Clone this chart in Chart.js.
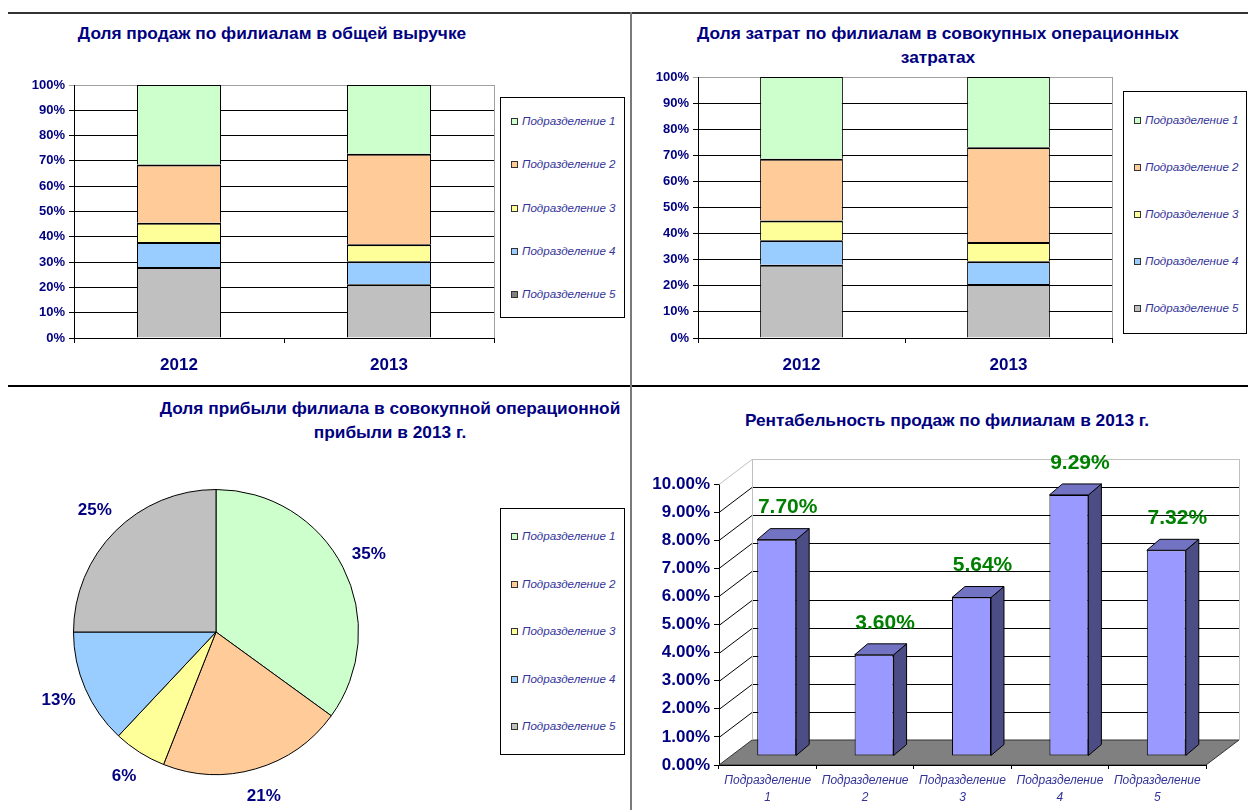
<!DOCTYPE html>
<html>
<head>
<meta charset="utf-8">
<script src="https://cdn.jsdelivr.net/npm/chart.js@4.4.1/dist/chart.umd.min.js"></script>
<style>
body{margin:0;width:1248px;height:810px;background:#fff;position:relative;overflow:hidden;font-family:"Liberation Sans",Arial,sans-serif}
canvas{position:absolute}
.ttl{position:absolute;width:640px;color:#000080;font-weight:bold;font-size:17.3px;text-align:center;line-height:24px;white-space:nowrap}
.lg{position:absolute;border:1px solid #000;background:#fff;box-sizing:border-box}
.lg div{position:absolute;font-style:italic;font-size:11.6px;color:#333399;white-space:nowrap;line-height:14px}
.lg span{display:inline-block;width:5px;height:5px;border:1px solid #333;margin-right:4px}
.ln{position:absolute;z-index:5}
</style>
</head>
<body>
<div class="ln" style="left:8px;top:12px;width:1240px;height:2px;background:#333"></div>
<div class="ln" style="left:8px;top:385px;width:1240px;height:2px;background:#000"></div>
<div class="ln" style="left:630px;top:12px;width:2px;height:798px;background:#7a7a7a"></div>

<div class="ttl" style="left:-48px;top:21px">Доля продаж по филиалам в общей выручке</div>
<div class="ttl" style="left:618px;top:21px">Доля затрат по филиалам в совокупных операционных<br>затратах</div>
<div class="ttl" style="left:70px;top:396px">Доля прибыли филиала в совокупной операционной<br>прибыли в 2013 г.</div>
<div class="ttl" style="left:627px;top:408px">Рентабельность продаж по филиалам в 2013 г.</div>

<canvas id="c1" width="500" height="325" style="left:0;top:60px"></canvas>
<canvas id="c2" width="490" height="325" style="left:630px;top:60px"></canvas>
<canvas id="c3" width="440" height="370" style="left:0;top:440px"></canvas>
<canvas id="c4" width="616" height="370" style="left:632px;top:440px"></canvas>

<div class="lg" id="lg1" style="left:500px;top:97px;width:125px;height:221px"></div>
<div class="lg" id="lg2" style="left:1123px;top:91px;width:124px;height:243px"></div>
<div class="lg" id="lg3" style="left:500px;top:508px;width:125px;height:247px"></div>

<script>
const names = ['Подразделение 1', 'Подразделение 2', 'Подразделение 3', 'Подразделение 4', 'Подразделение 5'];
const years = ['2012', '2013'];
const colors = ['#ccffcc', '#ffcc99', '#ffff99', '#99ccff', '#c0c0c0'];

// доля продаж, %
const sales2012 = [31.4, 23.0, 7.7, 9.8, 28.1];
const sales2013 = [27.2, 35.7, 6.8, 9.1, 21.2];
// доля затрат, %
const costs2012 = [31.3, 23.7, 7.5, 9.4, 28.1];
const costs2013 = [26.9, 36.3, 7.4, 8.7, 20.7];
// доля прибыли 2013, %
const profit2013 = [35, 21, 6, 13, 25];
// рентабельность продаж 2013, %
const margin2013 = [7.70, 3.60, 5.64, 9.29, 7.32];

Chart.defaults.font.family = '"Liberation Sans", Arial, sans-serif';
const navy = '#000080';

// legends (html)
function legend(id, first, step, marks) {
  const box = document.getElementById(id);
  names.forEach((n, i) => {
    const d = document.createElement('div');
    d.style.left = '10px';
    d.style.top = (first + step * i - 7) + 'px';
    d.innerHTML = '<span style="background:' + (marks[i] || colors[i]) + '"></span>' + n;
    box.appendChild(d);
  });
}
legend('lg1', 23, 43.3, ['', '', '', '', '#808080']);
legend('lg2', 28, 47, []);
legend('lg3', 27, 47.5, []);

// stacked 100% bars
function stackSets(a, b) {
  return names.map((n, i) => ({
    label: n,
    data: [a[i], b[i]],
    backgroundColor: colors[i],
    borderColor: '#000',
    borderWidth: {top: i === 0 ? 1 : 2, right: 1, bottom: 0, left: 1},
    borderSkipped: false
  })).reverse();
}

const plotEdge = {
  id: 'plotEdge',
  afterDraw(c) {
    const a = c.chartArea, ctx = c.ctx;
    ctx.save();
    ctx.strokeStyle = '#a0a0a0';
    ctx.lineWidth = 1;
    ctx.beginPath();
    ctx.moveTo(a.right + 0.5, a.top);
    ctx.lineTo(a.right + 0.5, a.bottom);
    ctx.stroke();
    ctx.restore();
  }
};

function stackOpts(padTop, yWidth, padRight) {
  return {
    responsive: false,
    animation: false,
    layout: {padding: {top: padTop, right: padRight, left: 0, bottom: 0}},
    plugins: {legend: {display: false}, tooltip: {enabled: false}},
    datasets: {bar: {categoryPercentage: 1, barPercentage: 0.4}},
    scales: {
      x: {
        stacked: true,
        grid: {offset: true, drawOnChartArea: false, tickLength: 5, color: '#000'},
        border: {color: '#000'},
        ticks: {padding: 12, color: navy, font: {size: 17, weight: 'bold'}},
        afterFit: s => { s.height = 47; }
      },
      y: {
        stacked: true, min: 0, max: 100,
        ticks: {stepSize: 10, callback: v => v + '%', padding: 4, color: navy, font: {size: 13, weight: 'bold'}},
        grid: {color: c => c.tick && c.tick.value === 100 ? '#a0a0a0' : '#000', tickLength: 5},
        border: {color: '#000'},
        afterFit: s => { s.width = yWidth; }
      }
    }
  };
}

new Chart(document.getElementById('c1'), {
  type: 'bar',
  data: {labels: years, datasets: stackSets(sales2012, sales2013)},
  options: stackOpts(25, 74, 6),
  plugins: [plotEdge]
});

new Chart(document.getElementById('c2'), {
  type: 'bar',
  data: {labels: years, datasets: stackSets(costs2012, costs2013)},
  options: stackOpts(17, 68, 8),
  plugins: [plotEdge]
});

// pie
const pieLabels = {
  id: 'pieLabels',
  afterDatasetsDraw(c) {
    const ctx = c.ctx;
    ctx.save();
    ctx.font = 'bold 17px "Liberation Sans", Arial, sans-serif';
    ctx.fillStyle = navy;
    ctx.textAlign = 'center';
    ctx.textBaseline = 'middle';
    c.getDatasetMeta(0).data.forEach((arc, i) => {
      const p = arc.getProps(['x', 'y', 'startAngle', 'endAngle', 'outerRadius'], true);
      const m = (p.startAngle + p.endAngle) / 2;
      const r = p.outerRadius + 29;
      ctx.fillText(profit2013[i] + '%', p.x + Math.cos(m) * r, p.y + Math.sin(m) * r);
    });
    ctx.restore();
  }
};

new Chart(document.getElementById('c3'), {
  type: 'pie',
  data: {labels: names, datasets: [{data: profit2013, backgroundColor: colors, borderColor: '#000', borderWidth: 1}]},
  options: {
    responsive: false,
    animation: false,
    layout: {padding: {left: 73, right: 81, top: 49, bottom: 35}},
    plugins: {legend: {display: false}, tooltip: {enabled: false}}
  },
  plugins: [pieLabels]
});

// 3d look for the margin chart
const DX = 33, DY = 25;     // depth of the box
const SX = 9, SY = 9;       // bars pushed back
const BX = 13, BY = 11;     // bar depth
const box3d = {
  id: 'box3d',
  beforeDatasetsDraw(c) {
    const a = c.chartArea, ys = c.scales.y, ctx = c.ctx;
    ctx.save();
    ctx.lineWidth = 1;
    // floor
    ctx.fillStyle = '#808080';
    ctx.strokeStyle = '#333';
    ctx.beginPath();
    ctx.moveTo(a.left, a.bottom);
    ctx.lineTo(a.right, a.bottom);
    ctx.lineTo(a.right + DX, a.bottom - DY);
    ctx.lineTo(a.left + DX, a.bottom - DY);
    ctx.closePath();
    ctx.fill();
    ctx.stroke();
    // walls
    ys.ticks.forEach(t => {
      if (t.value === 0) return;
      const py = Math.round(ys.getPixelForValue(t.value)) + 0.5;
      ctx.strokeStyle = t.value === 10 ? '#c0c0c0' : '#000';
      ctx.beginPath();
      ctx.moveTo(a.left, py);
      ctx.lineTo(a.left + DX, py - DY);
      ctx.lineTo(a.right + DX, py - DY);
      ctx.stroke();
    });
    ctx.strokeStyle = '#c0c0c0';
    ctx.beginPath();
    ctx.moveTo(a.left + DX + 0.5, a.top - DY);
    ctx.lineTo(a.left + DX + 0.5, a.bottom - DY);
    ctx.moveTo(a.right + DX + 0.5, a.top - DY);
    ctx.lineTo(a.right + DX + 0.5, a.bottom - DY);
    ctx.stroke();
    ctx.strokeStyle = '#000';
    ctx.beginPath();
    ctx.moveTo(a.left, a.bottom + 0.5);
    ctx.lineTo(a.right, a.bottom + 0.5);
    ctx.stroke();
    ctx.restore();
    ctx.save();
    ctx.translate(SX, -SY);
  },
  afterDatasetsDraw(c) {
    const ctx = c.ctx;
    ctx.restore();
    ctx.save();
    ctx.lineWidth = 1;
    ctx.strokeStyle = '#000';
    c.getDatasetMeta(0).data.forEach((el, i) => {
      const p = el.getProps(['x', 'y', 'base', 'width'], true);
      const l = p.x - p.width / 2 + SX, r = p.x + p.width / 2 + SX;
      const t = p.y - SY, b = p.base - SY;
      ctx.fillStyle = '#4d4d85';
      ctx.beginPath();
      ctx.moveTo(r, t); ctx.lineTo(r + BX, t - BY); ctx.lineTo(r + BX, b - BY); ctx.lineTo(r, b);
      ctx.closePath(); ctx.fill(); ctx.stroke();
      ctx.fillStyle = '#7373c4';
      ctx.beginPath();
      ctx.moveTo(l, t); ctx.lineTo(l + BX, t - BY); ctx.lineTo(r + BX, t - BY); ctx.lineTo(r, t);
      ctx.closePath(); ctx.fill(); ctx.stroke();
      ctx.font = 'bold 21px "Liberation Sans", Arial, sans-serif';
      ctx.fillStyle = '#008000';
      ctx.textAlign = 'center';
      ctx.textBaseline = 'middle';
      ctx.fillText(margin2013[i].toFixed(2) + '%', p.x + SX + 11, t - 32);
    });
    ctx.restore();
  }
};

new Chart(document.getElementById('c4'), {
  type: 'bar',
  data: {
    labels: names.map(n => n.split(' ')),
    datasets: [{data: margin2013, backgroundColor: '#9999ff', borderColor: '#000', borderWidth: 1, borderSkipped: false}]
  },
  options: {
    responsive: false,
    animation: false,
    layout: {padding: {top: 44, right: 42, left: 0, bottom: 0}},
    plugins: {legend: {display: false}, tooltip: {enabled: false}},
    datasets: {bar: {categoryPercentage: 1, barPercentage: 0.4}},
    scales: {
      x: {
        grid: {offset: true, drawOnChartArea: false, tickLength: 4, color: '#000'},
        border: {color: '#000'},
        ticks: {padding: 3, color: '#333399', maxRotation: 0, autoSkip: false, font: {size: 12, style: 'italic', lineHeight: 1.45}},
        afterFit: s => { s.height = 45; }
      },
      y: {
        min: 0, max: 10,
        ticks: {stepSize: 1, callback: v => v.toFixed(2) + '%', padding: 4, color: navy, font: {size: 17, weight: 'bold'}},
        grid: {drawOnChartArea: false, tickLength: 5, color: '#000'},
        border: {color: '#000'},
        afterFit: s => { s.width = 87; }
      }
    }
  },
  plugins: [box3d]
});
</script>
</body>
</html>
